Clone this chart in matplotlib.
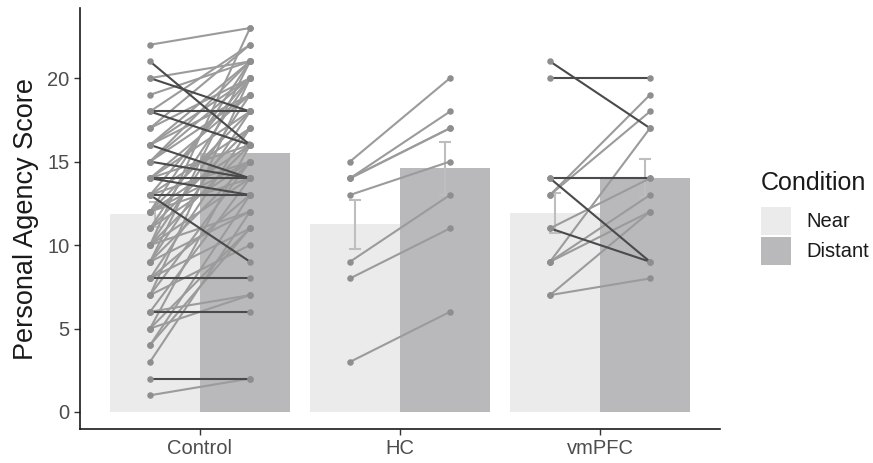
import matplotlib
matplotlib.use("Agg")
import matplotlib.pyplot as plt
from matplotlib.patches import Patch
import numpy as np

plt.rcParams['font.family'] = ['Liberation Sans', 'DejaVu Sans']

groups = ["Control", "HC", "vmPFC"]
conditions = ["Near", "Distant"]
bar_means_near = [11.85, 11.25, 11.9]
bar_means_distant = [15.5, 14.6, 14.0]
se_near = [0.75, 1.47, 1.2]
se_distant = [0.65, 1.6, 1.15]

# paired subject scores (near, distant)
control_near = [21, 20, 18, 18, 16, 15, 14, 14, 13, 13, 8, 6, 2,
                22, 20, 19, 18, 17, 17, 16, 16, 15, 15, 14, 14, 13, 13, 12, 12, 12,
                11, 11, 11, 10, 10, 10, 10, 9, 9, 9, 9, 8, 8, 8, 7, 7, 7, 6, 6,
                5, 5, 5, 4, 4, 3, 1, 12, 13, 10, 12, 16, 15, 14]
control_distant = [16, 18, 18, 16, 14, 14, 14, 13, 13, 9, 8, 6, 2,
                   23, 21, 21, 22, 20, 22, 20, 19, 19, 21, 19, 18, 17, 20, 16, 18, 21,
                   15, 17, 20, 14, 16, 19, 23, 12, 15, 18, 21, 11, 13, 17, 10, 15, 20, 7, 14,
                   11, 16, 7, 11, 13, 12, 2, 15, 15, 12, 14, 21, 20, 16]
hc_near = [15, 14, 14, 14, 13, 9, 8, 3]
hc_distant = [20, 18, 17, 17, 15, 13, 11, 6]
vmpfc_near = [21, 20, 14, 14, 13, 13, 11, 11, 9, 9, 9, 7, 7]
vmpfc_distant = [17, 20, 14, 9, 19, 18, 14, 9, 17, 13, 12, 12, 8]

pairs = [(control_near, control_distant), (hc_near, hc_distant), (vmpfc_near, vmpfc_distant)]

W, H = 873, 463
fig = plt.figure(figsize=(W / 100, H / 100), dpi=100)
ax = fig.add_axes([80 / W, 1 - 429 / H, 640 / W, 421 / H])

xpos = np.arange(1, 4)
near_col = "#EBEBEC"
dist_col = "#B9B9BB"
ax.bar(xpos - 0.225, bar_means_near, width=0.45, color=near_col, zorder=1)
ax.bar(xpos + 0.225, bar_means_distant, width=0.45, color=dist_col, zorder=1)
ax.errorbar(xpos - 0.225, bar_means_near, yerr=se_near, fmt='none', ecolor="#BEBEBE",
            elinewidth=1.5, capsize=4, capthick=1.5, zorder=2)
ax.errorbar(xpos + 0.225, bar_means_distant, yerr=se_distant, fmt='none', ecolor="#BEBEBE",
            elinewidth=1.5, capsize=4, capthick=1.5, zorder=2)

light = "#9B9B9B"
dark = "#4A4A4A"
for i, (nv, dv) in enumerate(pairs):
    x0 = xpos[i] - 0.25
    x1 = xpos[i] + 0.25
    for a, b in zip(nv, dv):
        if b > a:
            ax.plot([x0, x1], [a, b], color=light, lw=1.5, zorder=3, solid_capstyle='round')
    for a, b in zip(nv, dv):
        if b <= a:
            ax.plot([x0, x1], [a, b], color=dark, lw=1.5, zorder=4, solid_capstyle='round')
    ax.scatter([x0] * len(nv), nv, s=22, color="#8E8E8E", zorder=5, linewidths=0)
    ax.scatter([x1] * len(dv), dv, s=22, color="#8E8E8E", zorder=5, linewidths=0)

ax.set_xlim(0.4, 3.6)
ax.set_ylim(-1.02, 24.2)
ax.set_xticks(xpos)
ax.set_xticklabels(groups)
ax.set_yticks([0, 5, 10, 15, 20])
ax.tick_params(axis='both', colors="#333333", labelcolor="#4D4D4D", labelsize=14.5,
               length=4, width=1)
for s in ["top", "right"]:
    ax.spines[s].set_visible(False)
for s in ["left", "bottom"]:
    ax.spines[s].set_color("#1A1A1A")
    ax.spines[s].set_linewidth(1.2)
ax.set_ylabel("Personal Agency Score", fontsize=19.5, color="#1A1A1A", labelpad=6)

handles = [Patch(facecolor=near_col, edgecolor='none', label=conditions[0]),
           Patch(facecolor=dist_col, edgecolor='none', label=conditions[1])]
fig.text(761 / W, 1 - 183 / H, "Condition", fontsize=18, color="#1A1A1A",
         ha="left", va="center")
leg = fig.legend(handles=handles, loc="upper left",
                 bbox_to_anchor=(761 / W, 1 - 207 / H), frameon=False,
                 fontsize=14.5, handlelength=1.5, handleheight=1.75,
                 labelspacing=0.1, handletextpad=0.75, borderpad=0, borderaxespad=0)
for t in leg.get_texts():
    t.set_color("#1A1A1A")

fig.savefig("out.png", dpi=100)
